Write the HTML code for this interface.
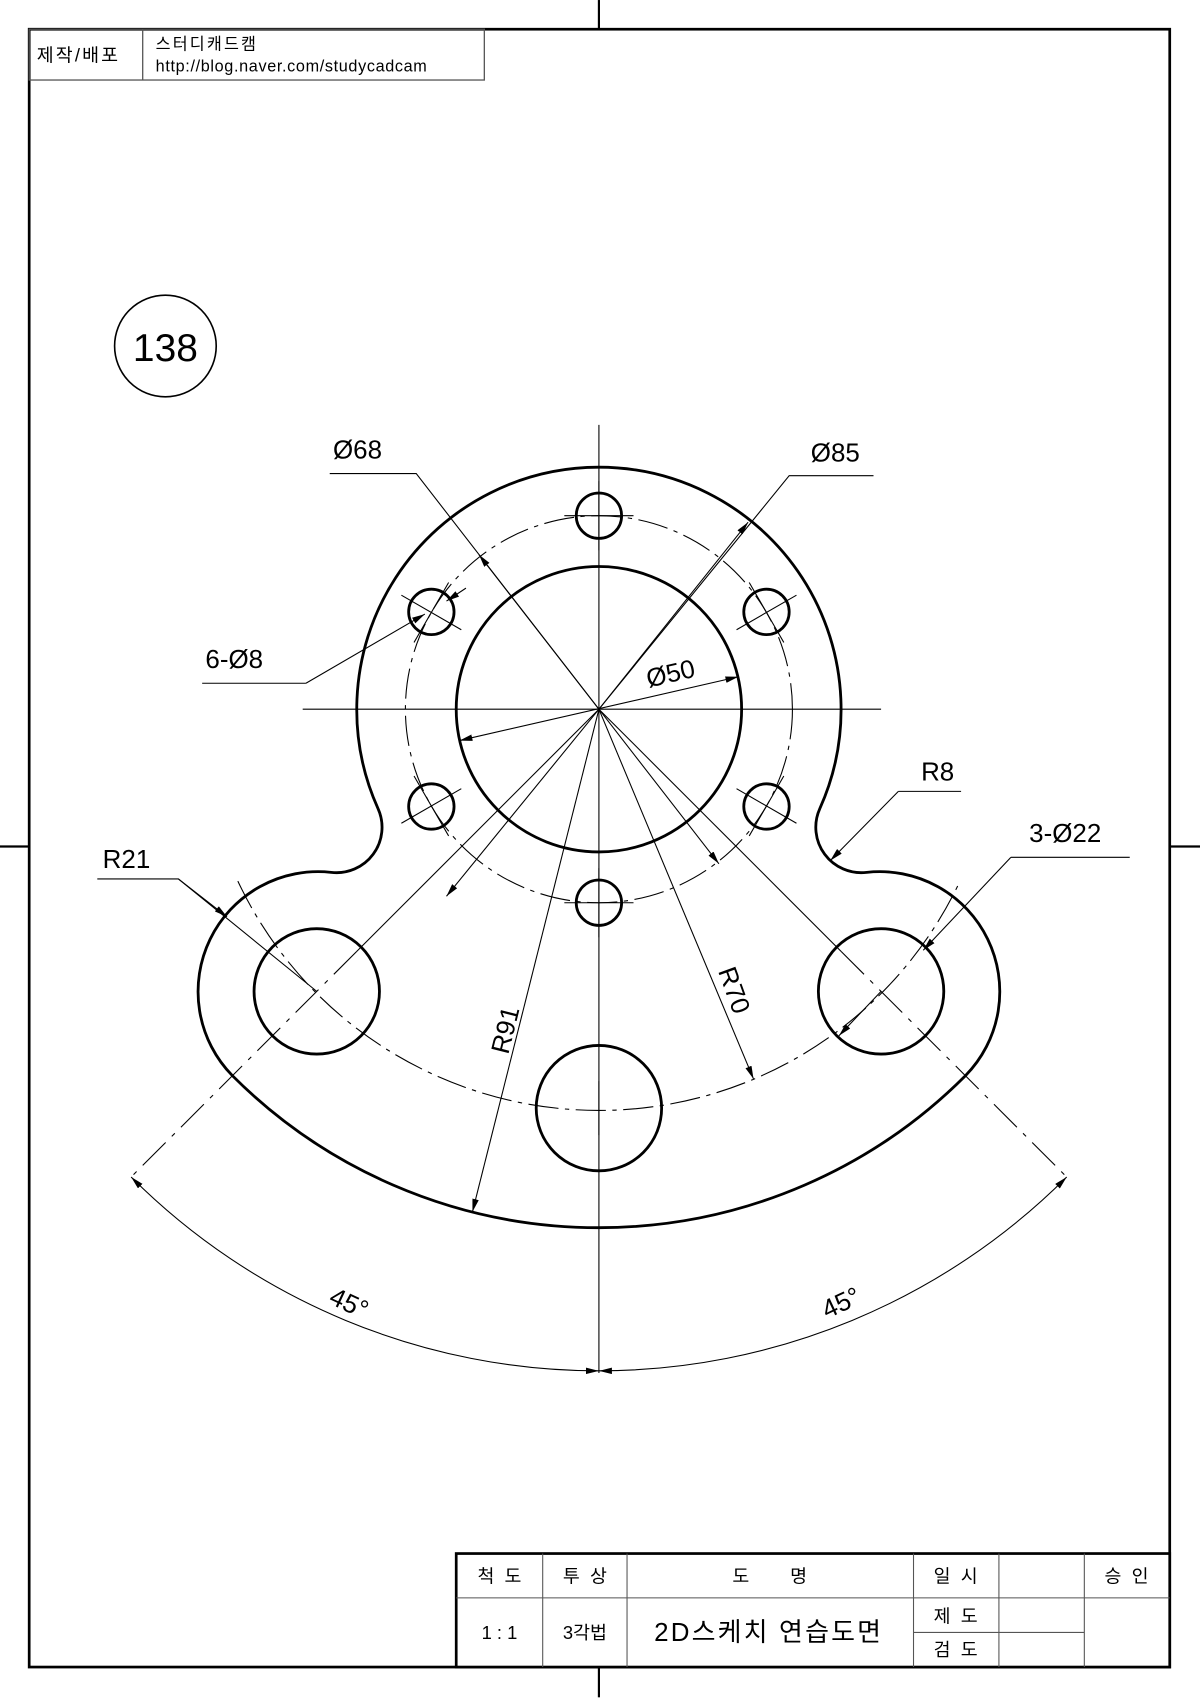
<!DOCTYPE html>
<html><head><meta charset="utf-8"><style>
html,body{margin:0;padding:0;background:#fff;}
svg{display:block;}
text{font-family:"Liberation Sans","Noto Sans CJK KR",sans-serif;fill:#000;}
</style></head><body>
<svg width="1200" height="1698" viewBox="0 0 1110 1570.6" xmlns="http://www.w3.org/2000/svg">
<defs>
<marker id="a" viewBox="0 0 12 6" refX="12" refY="3" markerWidth="12" markerHeight="6" markerUnits="userSpaceOnUse" orient="auto-start-reverse"><path d="M0,0 L12,3 L0,6 z" fill="#000"/></marker>
</defs>
<rect x="27" y="27" width="1055" height="1515" fill="none" stroke="#000" stroke-width="2.5"/>
<g stroke="#000" stroke-width="2">
<line x1="554" y1="0" x2="554" y2="27"/><line x1="554" y1="1542" x2="554" y2="1570"/>
<line x1="0" y1="783" x2="27" y2="783"/><line x1="1082" y1="783" x2="1110" y2="783"/>
</g>
<g stroke="#555" stroke-width="1.2" fill="none"><rect x="27" y="27" width="421" height="47"/><line x1="132" y1="27" x2="132" y2="74"/></g>
<text x="34" y="57" font-size="17" letter-spacing="2">제작/배포</text>
<text x="144" y="46" font-size="15" letter-spacing="2">스터디캐드캠</text>
<text x="144" y="66" font-size="15" letter-spacing="0.6">http://blog.naver.com/studycadcam</text>
<circle cx="153" cy="320" r="47" fill="none" stroke="#000" stroke-width="1.5"/>
<text x="153" y="334" font-size="36" text-anchor="middle">138</text>

<g stroke="#000" stroke-width="1" fill="none">
<line x1="280" y1="656" x2="815" y2="656"/>
<line x1="554" y1="393" x2="554" y2="1270"/>
<circle cx="554" cy="656" r="179" stroke-dasharray="28,6,4,6"/>
<path d="M220,815 A369,369 0 0 0 888,815" stroke-dasharray="28,6,4,6"/>
<g transform="translate(554,656)">
<g transform="rotate(0)"><line x1="0" y1="-211" x2="0" y2="-147"/><line x1="-32" y1="-179" x2="32" y2="-179"/></g>
<g transform="rotate(60)"><line x1="0" y1="-211" x2="0" y2="-147"/><line x1="-32" y1="-179" x2="32" y2="-179"/></g>
<g transform="rotate(120)"><line x1="0" y1="-211" x2="0" y2="-147"/><line x1="-32" y1="-179" x2="32" y2="-179"/></g>
<g transform="rotate(180)"><line x1="0" y1="-211" x2="0" y2="-147"/><line x1="-32" y1="-179" x2="32" y2="-179"/></g>
<g transform="rotate(240)"><line x1="0" y1="-211" x2="0" y2="-147"/><line x1="-32" y1="-179" x2="32" y2="-179"/></g>
<g transform="rotate(300)"><line x1="0" y1="-211" x2="0" y2="-147"/><line x1="-32" y1="-179" x2="32" y2="-179"/></g>
</g>
<line x1="554" y1="656" x2="330" y2="880"/><line x1="330" y1="880" x2="121" y2="1089" stroke-dasharray="30,8,4,8"/>
<line x1="554" y1="656" x2="778" y2="880"/><line x1="778" y1="880" x2="987" y2="1089" stroke-dasharray="30,8,4,8"/>
<line x1="554" y1="1000" x2="554" y2="1050"/>
</g>

<g stroke="#000" stroke-width="2.6" fill="none">
<path d="M306.3,806.9 A111,111 0 0 0 215,995 A479,479 0 0 0 893,995 A111,111 0 0 0 801.7,806.9 A42,42 0 0 1 758.3,748 A224,224 0 1 0 349.7,748 A42,42 0 0 1 306.3,806.9 Z"/>
<circle cx="554" cy="656" r="132"/>
<circle cx="554" cy="477" r="21"/><circle cx="554" cy="835" r="21"/>
<circle cx="709" cy="566" r="21"/><circle cx="399" cy="566" r="21"/>
<circle cx="709" cy="746" r="21"/><circle cx="399" cy="746" r="21"/>
<circle cx="293" cy="917" r="58"/><circle cx="815" cy="917" r="58"/><circle cx="554" cy="1025" r="58"/>
</g>

<g stroke="#000" stroke-width="1" fill="none">
<path d="M305,438 L385,438 L554,656"/><line x1="554" y1="656" x2="443" y2="513" marker-end="url(#a)"/>
<line x1="554" y1="656" x2="665" y2="799" marker-end="url(#a)"/>
<path d="M808,440 L730,440 L554,656"/><line x1="554" y1="656" x2="692" y2="483" marker-end="url(#a)"/>
<line x1="554" y1="656" x2="413" y2="829" marker-end="url(#a)"/>
<line x1="425" y1="685" x2="683" y2="626" marker-start="url(#a)" marker-end="url(#a)"/>
<line x1="554" y1="656" x2="437" y2="1121" marker-end="url(#a)"/>
<line x1="554" y1="656" x2="697" y2="998" marker-end="url(#a)"/>
<path d="M187,632 L283,632"/><line x1="283" y1="632" x2="393" y2="568" marker-end="url(#a)"/>
<line x1="431" y1="544" x2="413" y2="556" marker-end="url(#a)"/>
<path d="M90,813 L165,813 L293,917"/><line x1="165" y1="813" x2="210" y2="848" marker-end="url(#a)"/>
<path d="M889,732 L831,732"/><line x1="831" y1="732" x2="768" y2="796" marker-end="url(#a)"/>
<path d="M1045,793 L935,793"/><line x1="935" y1="793" x2="854" y2="879" marker-end="url(#a)"/>
<line x1="815" y1="917" x2="776" y2="958" marker-end="url(#a)"/>
<path d="M121.3,1088.7 A612,612 0 0 0 554,1268" marker-start="url(#a)" marker-end="url(#a)"/>
<path d="M986.7,1088.7 A612,612 0 0 1 554,1268" marker-start="url(#a)" marker-end="url(#a)"/>
</g>
<g font-size="24">
<text x="308" y="424">Ø68</text>
<text x="750" y="427">Ø85</text>
<text x="190" y="618">6-Ø8</text>
<text x="852" y="722">R8</text>
<text x="95" y="803">R21</text>
<text x="952" y="779">3-Ø22</text>
<text transform="translate(600,636) rotate(-13)">Ø50</text>
<text transform="translate(470,976) rotate(-76)">R91</text>
<text transform="translate(664,898) rotate(70)">R70</text>
<text transform="translate(303,1205) rotate(25)">45°</text>
<text transform="translate(765,1220) rotate(-25)">45°</text>
</g>

<rect x="422" y="1437" width="660" height="105" fill="#fff" stroke="#000" stroke-width="2.5"/>
<g stroke="#555" stroke-width="1">
<line x1="422" y1="1478" x2="1082" y2="1478"/>
<line x1="502" y1="1437" x2="502" y2="1542"/><line x1="580" y1="1437" x2="580" y2="1542"/>
<line x1="845" y1="1437" x2="845" y2="1542"/><line x1="924" y1="1437" x2="924" y2="1542"/>
<line x1="1003" y1="1437" x2="1003" y2="1542"/>
<line x1="845" y1="1510" x2="1003" y2="1510"/>
</g>
<g font-size="17" text-anchor="middle">
<text x="462" y="1464">척&#160;&#160;도</text><text x="541" y="1464">투&#160;&#160;상</text>
<text x="712" y="1464">도&#160;&#160;&#160;&#160;&#160;&#160;&#160;&#160;명</text>
<text x="884" y="1464">일&#160;&#160;시</text><text x="1042" y="1464">승&#160;&#160;인</text>
<text x="462" y="1516">1 : 1</text><text x="541" y="1516">3각법</text>
<text x="884" y="1501">제&#160;&#160;도</text><text x="884" y="1532">검&#160;&#160;도</text>
<text x="711" y="1518" font-size="24" letter-spacing="2">2D스케치 연습도면</text>
</g>
</svg>
</body></html>
